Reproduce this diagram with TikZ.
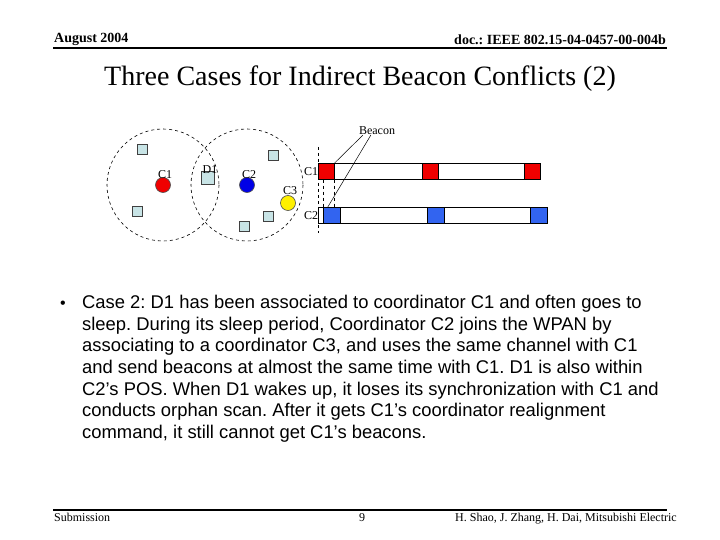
\documentclass[tikz,border=0pt]{standalone}
\usepackage{fontspec}
\setmainfont{Liberation Serif}
\newfontfamily\arialf{Liberation Sans}
\definecolor{sqfill}{RGB}{200,228,230}
\definecolor{bred}{RGB}{240,0,0}
\definecolor{bblue}{RGB}{50,100,240}
\definecolor{dblue}{RGB}{0,0,230}
\definecolor{dyellow}{RGB}{255,240,0}
\frenchspacing
\begin{document}
\begin{tikzpicture}[x=1pt,y=-1pt,
  dev/.style={draw=black!75,fill=sqfill,line width=0.6pt,minimum size=10pt,inner sep=0pt},
  coord/.style={circle,draw=black!70,line width=0.6pt,minimum size=15pt,inner sep=0pt},
  lbl/.style={font=\fontsize{12}{12}\selectfont,inner sep=0pt},
  bar/.style={draw=black,fill=white,line width=0.7pt},
  bcn/.style={draw=black,line width=0.6pt,inner sep=0pt,minimum height=16pt,minimum width=16pt},
  rangecirc/.style={draw,dashed,line width=0.6pt},
  body/.style={font=\arialf\fontsize{18.4}{18.4}\selectfont,anchor=base west,inner sep=0pt}]
\useasboundingbox (0,0) rectangle (720,540);
% header
\node[anchor=base west,inner sep=0pt,font=\bfseries\fontsize{14}{14}\selectfont] (hl) at (54,43) {August 2004};
\node[anchor=base east,inner sep=0pt,font=\bfseries\fontsize{14}{14}\selectfont] (hr) at (666,45) {doc.: IEEE 802.15-04-0457-00-004b};
\draw[line width=1.5pt] (53,48) -- (667,48);
\node[inner sep=0pt,font=\fontsize{28}{28}\selectfont,anchor=base] (title) at (360,86) {Three Cases for Indirect Beacon Conflicts (2)};
% ranges
\draw[rangecirc] (163,185) circle[radius=56];
\draw[rangecirc] (247,185) circle[radius=56];
% devices
\node[dev] (s1) at (142,149) {};
\node[dev] (s2) at (137,211) {};
\node[dev] (s3) at (273,155) {};
\node[dev] (s4) at (268,216) {};
\node[dev] (s5) at (244,226) {};
\node[dev,minimum size=13pt] (d1) at (208,178) {};
\node[lbl] (d1l) at (210,170) {D1};
% coordinators
\node[coord,fill=bred] (c1) at (163,185) {};
\node[lbl] (c1l) at (165,175) {C1};
\node[coord,fill=dblue] (c2) at (247,185) {};
\node[lbl] (c2l) at (249,175) {C2};
\node[coord,fill=dyellow] (c3) at (288,203) {};
\node[lbl] (c3l) at (290,191) {C3};
% timing bars
\draw[bar] (318,163) rectangle (540,179);
\draw[bar] (318,207) rectangle (547,223);
\node[bcn,fill=bred,anchor=north west] (r1) at (318,163) {};
\node[bcn,fill=bred,anchor=north west] (r2) at (422,163) {};
\node[bcn,fill=bred,anchor=north west] (r3) at (524,163) {};
\node[bcn,fill=bblue,anchor=north west,minimum width=17pt] (b1) at (323,207) {};
\node[bcn,fill=bblue,anchor=north west,minimum width=17pt] (b2) at (427,207) {};
\node[bcn,fill=bblue,anchor=north west,minimum width=17pt] (b3) at (530,207) {};
\node[lbl] (t1) at (311,172) {C1};
\node[lbl] (t2) at (311,216) {C2};
% dashed guides
\coordinate (g1) at (318,147);
\coordinate (g2) at (318,233);
\draw[dashed,line width=0.6pt] (g1) -- (g2);
\draw[dashed,line width=0.6pt] (r1.south west -| b1.north west) -- (b1.north west);
\draw[dashed,line width=0.6pt] (r1.south east) -- (r1.south east |- b1.north);
% beacon label
\node[lbl] (beacon) at (377,131) {Beacon};
\draw[line width=0.5pt] (beacon.south west) ++(4,0) -- (r1.north east);
\draw[line width=0.5pt] (beacon.south west) ++(12,0) -- ([xshift=-4pt]b1.north);
% body text
\node[font=\arialf\fontsize{16}{16}\selectfont,anchor=base,inner sep=0pt] (bul) at (63,308) {•};
\node[body] (l1) at (82,308) {Case 2: D1 has been associated to coordinator C1 and often goes to};
\node[body] (l2) at (82,330) {sleep. During its sleep period, Coordinator C2 joins the WPAN by};
\node[body] (l3) at (82,351) {associating to a coordinator C3, and uses the same channel with C1};
\node[body] (l4) at (82,373) {and send beacons at almost the same time with C1. D1 is also within};
\node[body] (l5) at (82,395) {C2’s POS. When D1 wakes up, it loses its synchronization with C1 and};
\node[body] (l6) at (82,416) {conducts orphan scan. After it gets C1’s coordinator realignment};
\node[body] (l7) at (82,438) {command, it still cannot get C1’s beacons.};
% footer
\draw[line width=1.5pt] (53,510) -- (667,510);
\node[anchor=base west,inner sep=0pt,font=\fontsize{12}{12}\selectfont] (fl) at (54,521) {Submission};
\node[anchor=base,inner sep=0pt,font=\fontsize{12}{12}\selectfont] (fc) at (362,521) {9};
\node[anchor=base east,inner sep=0pt,font=\fontsize{12}{12}\selectfont] (fr) at (677,521) {H. Shao, J. Zhang, H. Dai, Mitsubishi Electric};
\end{tikzpicture}
\end{document}
